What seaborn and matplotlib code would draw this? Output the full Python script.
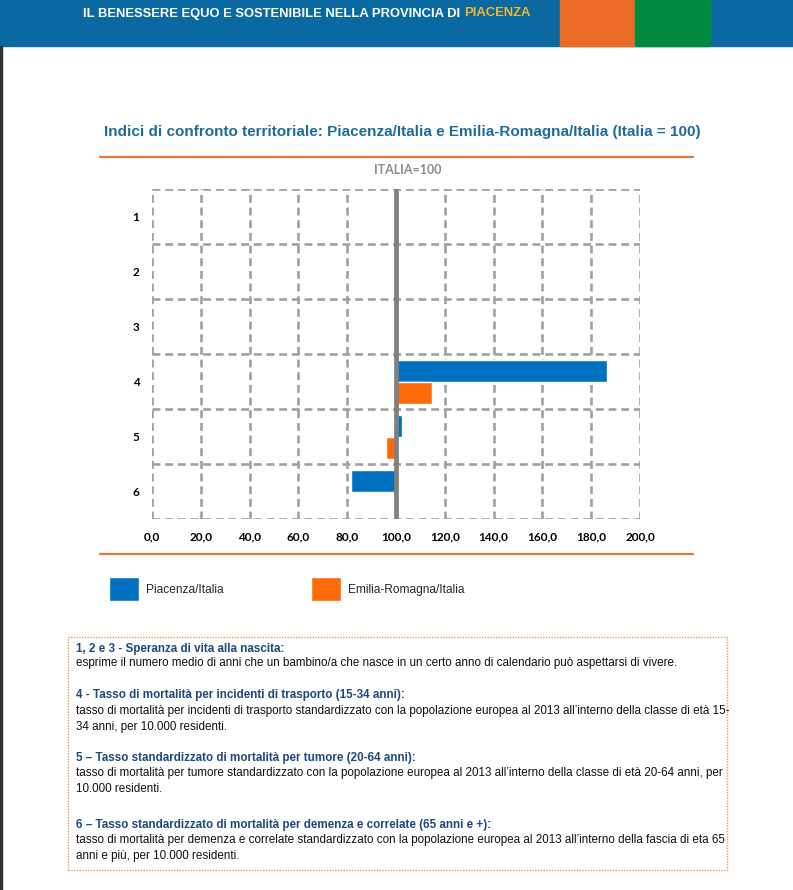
import numpy as np
import pandas as pd
import seaborn as sns
import matplotlib.pyplot as plt
from matplotlib.patches import Rectangle
from matplotlib.ticker import FuncFormatter

# valori (Italia = 100)
indicatori = ['1', '2', '3', '4', '5', '6']
piacenza = [100.3, 100.4, 100.2, 186.3, 102.3, 81.4]
emilia = [100.2, 100.3, 100.1, 114.6, 95.8, 99.8]
serie = ['Piacenza/Italia', 'Emilia-Romagna/Italia']
x_ticks = [0, 20, 40, 60, 80, 100, 120, 140, 160, 180, 200]

BLU = '#0070C0'
ARANCIO = '#FF6A0A'
narrow = ['Liberation Sans', 'DejaVu Sans']
calibri = ['Lato', 'DejaVu Sans']

sns.set_theme(style='white')
plt.rcParams['font.family'] = narrow

df = pd.DataFrame({
    'indicatore': indicatori * 2,
    'serie': [serie[0]] * 6 + [serie[1]] * 6,
    'valore': piacenza + emilia,
})
# barre disegnate a partire dalla base Italia = 100
df['scarto'] = df['valore'] - 100

fig = plt.figure(figsize=(7.93, 8.9), dpi=100)
W, H = 793, 890

def fx(px):
    return px / W

def fy(py):
    return 1 - py / H

# intestazione
fig.patches.append(Rectangle((0, fy(46)), 1, 46 / H, transform=fig.transFigure,
                             color='#0A69A0', zorder=0))
fig.patches.append(Rectangle((fx(560), fy(46)), 74 / W, 46 / H, transform=fig.transFigure,
                             color='#EA6B24', zorder=1))
fig.patches.append(Rectangle((fx(635), fy(46)), 75 / W, 46 / H, transform=fig.transFigure,
                             color='#00893F', zorder=1))
fig.patches.append(Rectangle((0, 0), 1.5 / W, fy(46), transform=fig.transFigure,
                             color='#333333', zorder=1))

t1 = fig.text(fx(83), fy(13.5), 'IL BENESSERE EQUO E SOSTENIBILE NELLA PROVINCIA DI ',
              color='white', fontsize=9.4, fontweight='bold', va='center', ha='left')
fig.canvas.draw()
bb = t1.get_window_extent()
fig.text(bb.x1 / W, fy(13.5), 'PIACENZA', color='#F2B632', fontsize=9.4,
         fontweight='bold', va='center', ha='left')

# titolo
fig.text(fx(402), fy(132),
         'Indici di confronto territoriale: Piacenza/Italia e Emilia-Romagna/Italia (Italia = 100)',
         color='#1F6B99', fontsize=11, fontweight='bold', ha='center', va='center')
fig.add_artist(plt.Line2D([fx(100), fx(693)], [fy(157), fy(157)], color='#E07B39', lw=1.6))
fig.add_artist(plt.Line2D([fx(100), fx(693)], [fy(554), fy(554)], color='#E07B39', lw=1.6))
fig.text(fx(408), fy(170), 'ITALIA=100', color='#8C8C8C', fontsize=9,
         fontweight='bold', ha='center', va='center', family=calibri)

# grafico
ax = fig.add_axes([fx(152), fy(519), fx(640) - fx(152), 330 / H])
sns.barplot(data=df, x='scarto', y='indicatore', hue='serie', orient='h',
            palette=[BLU, ARANCIO], saturation=1, width=0.8, ax=ax, legend=True)

ax.set_xlim(-100, 100)
ax.set_xticks([t - 100 for t in x_ticks])
ax.xaxis.set_major_formatter(FuncFormatter(lambda v, p: f'{v + 100:.1f}'.replace('.', ',')))
ax.set_yticks(range(6))
ax.set_yticklabels(indicatori)
ax.set_yticks(np.arange(-0.5, 6, 1), minor=True)
ax.set_ylim(5.5, -0.5)
ax.set_xlabel('')
ax.set_ylabel('')
for s in ax.spines.values():
    s.set_visible(False)

grid_kw = dict(color='#A0A0A0', lw=1.9, linestyle=(0, (3, 1.8)))
ax.grid(axis='x', which='major', **grid_kw)
ax.grid(axis='y', which='minor', **grid_kw)
ax.grid(axis='y', which='major', visible=False)
ax.set_axisbelow(True)
ax.axvline(0, color='#808080', lw=3.4, zorder=5)

ax.tick_params(axis='both', which='both', length=0)
ax.tick_params(axis='x', pad=9)
ax.tick_params(axis='y', pad=9)
for lab in ax.get_xticklabels() + ax.get_yticklabels():
    lab.set_fontweight('bold')
    lab.set_fontsize(8.5)
    lab.set_family(calibri)
    lab.set_color('black')

# legenda
handles, labels = ax.get_legend_handles_labels()
ax.legend_.remove()
fig.legend(handles, labels, loc='center left', bbox_to_anchor=(fx(109), fy(589)),
           ncol=2, frameon=False, fontsize=8.6, handlelength=2.5, handleheight=2.6,
           handletextpad=0.6, columnspacing=7.3, borderaxespad=0, borderpad=0)

# riquadro note
fig.patches.append(Rectangle((fx(68), fy(870)), (727 - 68) / W, (870 - 637) / H,
                             transform=fig.transFigure, fill=False, edgecolor='#D9A066',
                             lw=1, linestyle=(0, (1, 1))))

note = [
    (649, '1, 2 e 3 - Speranza di vita alla nascita:', True),
    (663, 'esprime il numero medio di anni che un bambino/a che nasce in un certo anno di calendario può aspettarsi di vivere.', False),
    (695, '4 - Tasso di mortalità per incidenti di trasporto (15-34 anni):', True),
    (711, 'tasso di mortalità per incidenti di trasporto standardizzato con la popolazione europea al 2013 all’interno della classe di età 15-', False),
    (727, '34 anni, per 10.000 residenti.', False),
    (758, '5 – Tasso standardizzato di mortalità per tumore (20-64 anni):', True),
    (773, 'tasso di mortalità per tumore standardizzato con la popolazione europea al 2013 all’interno della classe di età 20-64 anni, per', False),
    (789, '10.000 residenti.', False),
    (825, '6 – Tasso standardizzato di mortalità per demenza e correlate (65 anni e +):', True),
    (840, 'tasso di mortalità per demenza e correlate standardizzato con la popolazione europea al 2013 all’interno della fascia di eta 65', False),
    (856, 'anni e più, per 10.000 residenti.', False),
]
for y, testo, titolo in note:
    fig.text(fx(76), fy(y), testo, ha='left', va='center', fontsize=8.4,
             color='#1F497D' if titolo else '#111111',
             fontweight='bold' if titolo else 'normal')

fig.savefig('out.png', dpi=100)
